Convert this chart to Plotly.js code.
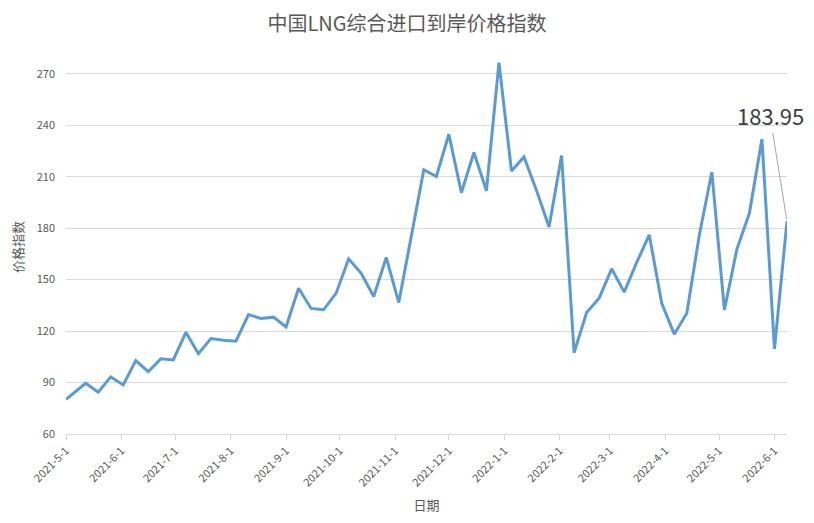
<!DOCTYPE html>
<html>
<head>
<meta charset="utf-8">
<script src="https://cdn.plot.ly/plotly-3.0.1.min.js"></script>
<style>html,body{margin:0;padding:0;background:#fff;}#chart{width:814px;height:523px;}</style>
</head>
<body>
<div id="chart"></div>
<script>
var dates = ["2021-05-01","2021-05-12","2021-05-19","2021-05-26","2021-06-02","2021-06-09","2021-06-16","2021-06-23","2021-06-30",
"2021-07-07","2021-07-14","2021-07-21","2021-07-28","2021-08-04","2021-08-11","2021-08-18","2021-08-25","2021-09-01",
"2021-09-08","2021-09-15","2021-09-22","2021-09-29","2021-10-06","2021-10-13","2021-10-20","2021-10-27","2021-11-03",
"2021-11-10","2021-11-17","2021-11-24","2021-12-01","2021-12-08","2021-12-15","2021-12-22","2021-12-29","2022-01-05",
"2022-01-12","2022-01-19","2022-01-26","2022-02-02","2022-02-09","2022-02-16","2022-02-23","2022-03-02","2022-03-09",
"2022-03-16","2022-03-23","2022-03-30","2022-04-06","2022-04-13","2022-04-20","2022-04-27","2022-05-04","2022-05-11",
"2022-05-18","2022-05-25","2022-06-01","2022-06-08"];
var priceIndex = [80.2,89.6,84.3,93.3,88.6,102.8,96.3,103.9,103.2,
119.3,106.8,115.6,114.6,114.1,129.6,127.3,128.1,122.4,
145.0,133.2,132.4,142.1,162.1,153.7,140.1,162.9,136.6,
176.0,214.0,210.1,234.7,200.6,224.1,201.8,276.5,213.3,
221.5,202.0,180.6,222.3,107.4,130.8,139.2,156.3,142.7,
160.0,176.1,136.2,118.2,130.4,176.0,212.7,132.3,167.7,
188.8,231.9,109.6,183.95];
var titleText = "中国LNG综合进口到岸价格指数";
var xTitle = "日期";
var yTitle = "价格指数";
var lastLabel = "183.95";

var font = "Noto Sans CJK SC, Noto Sans, sans-serif";
var trace = {
  x: dates, y: priceIndex, type: "scatter", mode: "lines",
  line: {color: "#5B9BD5", width: 3},
  hoverinfo: "skip"
};
var layout = {
  width: 814, height: 523,
  margin: {l: 66, r: 27, t: 60, b: 89},
  paper_bgcolor: "#fff", plot_bgcolor: "#fff",
  showlegend: false,
  title: {text: titleText, x: 0.5, xanchor: "center", y: 0.955, yanchor: "middle",
          font: {family: font, size: 20, color: "#595959"}},
  xaxis: {
    type: "date", range: ["2021-05-01", "2022-06-08"],
    tick0: "2021-05-01", dtick: "M1", tickformat: "%Y-%-m-%-d", tickangle: -45,
    ticks: "outside", ticklen: 5, tickcolor: "#d9d9d9",
    showline: true, linecolor: "#d9d9d9", linewidth: 1,
    showgrid: false, zeroline: false,
    tickfont: {family: font, size: 11, color: "#595959"},
    title: {text: xTitle, font: {family: font, size: 13, color: "#595959"}, standoff: 12}
  },
  yaxis: {
    range: [60, 278], tick0: 60, dtick: 30,
    showgrid: true, gridcolor: "#d9d9d9", gridwidth: 1,
    showline: false, zeroline: false, ticks: "",
    ticklabelstandoff: 10,
    tickfont: {family: font, size: 11, color: "#595959"},
    title: {text: yTitle, font: {family: font, size: 13, color: "#595959"}, standoff: 10}
  },
  annotations: [{
    x: dates[dates.length - 1], y: priceIndex[priceIndex.length - 1],
    xref: "x", yref: "y",
    text: lastLabel, showarrow: true, arrowhead: 0, arrowwidth: 1, arrowcolor: "#a6a6a6",
    ax: -17, ay: -106, standoff: 2,
    font: {family: font, size: 22, color: "#404040"}
  }]
};
Plotly.newPlot("chart", [trace], layout, {staticPlot: true, displayModeBar: false});
</script>
</body>
</html>
